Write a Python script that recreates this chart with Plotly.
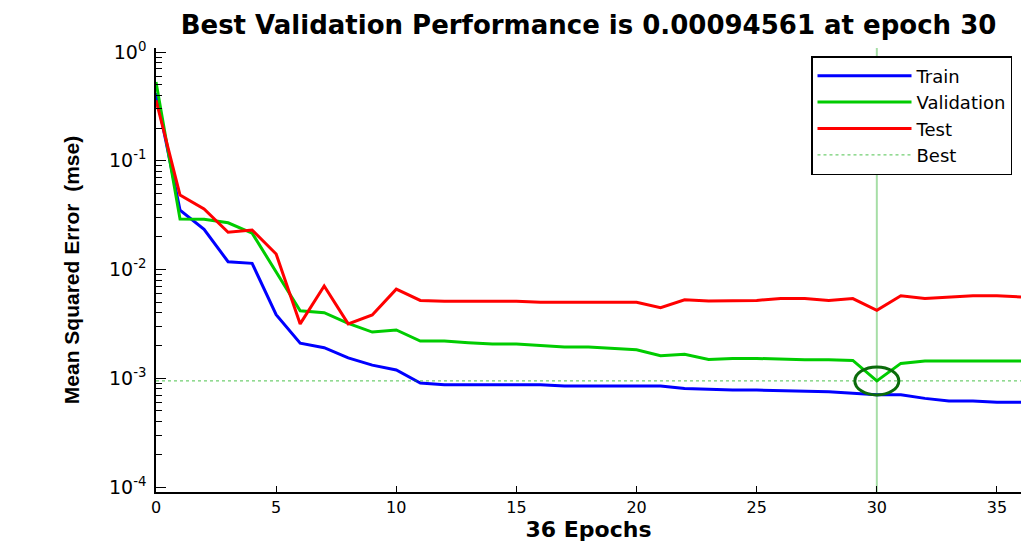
import math
import plotly.graph_objects as go

epochs = list(range(37))
train = [0.42, 0.0352, 0.0234, 0.0118, 0.0114, 0.00385, 0.0021, 0.00191, 0.00154,
         0.00132, 0.00119, 0.000904, 0.000873, 0.00087, 0.00087, 0.00087, 0.00087,
         0.000849, 0.00085, 0.00085, 0.00085, 0.00085, 0.000807, 0.00079, 0.00078,
         0.00078, 0.00077, 0.000752, 0.00075, 0.000727, 0.000706, 0.000706, 0.000653,
         0.000618, 0.000618, 0.000601, 0.000601]
validation = [0.53, 0.0291, 0.029, 0.0269, 0.0216, 0.0095, 0.00418, 0.00401, 0.0032,
              0.00266, 0.00278, 0.0022, 0.0022, 0.00212, 0.00206, 0.00206, 0.00199,
              0.00194, 0.00194, 0.00188, 0.00183, 0.00161, 0.00166, 0.00149, 0.00152,
              0.00152, 0.00149, 0.00148, 0.00148, 0.00146, 0.00094561, 0.00137, 0.00144,
              0.00144, 0.00144, 0.00144, 0.00144]
test = [0.36, 0.0484, 0.036, 0.022, 0.0231, 0.0139, 0.00316, 0.00705, 0.00316,
        0.00382, 0.0066, 0.0052, 0.0051, 0.0051, 0.0051, 0.0051, 0.0050, 0.0050,
        0.0050, 0.0050, 0.0050, 0.00446, 0.00527, 0.00513, 0.0052, 0.0052, 0.0054,
        0.0054, 0.0052, 0.0054, 0.00422, 0.00574, 0.0054, 0.00559, 0.00574, 0.00574,
        0.00559]
best_epoch = 30
best_perf = 0.00094561
n_epochs = 36

x_ticks = [0, 5, 10, 15, 20, 25, 30, 35]
y_ticks = [1e-4, 1e-3, 1e-2, 1e-1, 1e0]
y_ticktext = ["10<sup>-4</sup>", "10<sup>-3</sup>", "10<sup>-2</sup>",
              "10<sup>-1</sup>", "10<sup>0</sup>"]
y_minor = [m * 10 ** e for e in range(-4, 0) for m in range(2, 10)]
y_range = [-4.046, 0.037]

fig = go.Figure()
fig.add_trace(go.Scatter(x=epochs, y=train, mode="lines", name="Train",
                         line=dict(color="#0000ff", width=3)))
fig.add_trace(go.Scatter(x=epochs, y=validation, mode="lines", name="Validation",
                         line=dict(color="#00cc00", width=3)))
fig.add_trace(go.Scatter(x=epochs, y=test, mode="lines", name="Test",
                         line=dict(color="#ff0000", width=3)))
fig.add_trace(go.Scatter(x=[0, n_epochs], y=[best_perf, best_perf], mode="lines",
                         name="Best",
                         line=dict(color="rgba(0,170,0,0.7)", width=1, dash="dot")))

# vertical best-epoch line
fig.add_shape(type="line", xref="x", yref="y domain", x0=best_epoch, x1=best_epoch,
              y0=0, y1=1, line=dict(color="rgba(0,160,0,0.35)", width=2), layer="below")
# best-point ellipse marker (anchored in axis-domain units derived from the log range)
best_dom = (math.log10(best_perf) - y_range[0]) / (y_range[1] - y_range[0])
fig.add_shape(type="circle", xref="x", yref="y domain", xsizemode="pixel",
              ysizemode="pixel", xanchor=best_epoch, yanchor=best_dom,
              x0=-22, x1=22, y0=-14, y1=14, line=dict(color="#0b6b0b", width=3))

font_main = "DejaVu Sans, Liberation Sans, Arial, sans-serif"

fig.update_layout(
    width=1021, height=542,
    margin=dict(l=156, r=0, t=48, b=50),
    paper_bgcolor="white", plot_bgcolor="white",
    title=dict(text="<b>Best Validation Performance is 0.00094561 at epoch 30</b>",
               x=0.5, xref="paper", xanchor="center", y=1 - 25 / 542, yref="container",
               yanchor="middle",
               font=dict(family=font_main, size=26, color="black")),
    showlegend=True,
    legend=dict(x=(1012 - 156) / (1021 - 156), xanchor="right",
                y=1 - (56 - 48) / (492 - 48), yanchor="top",
                bordercolor="black", borderwidth=1.5, bgcolor="white",
                font=dict(family=font_main, size=18, color="black"),
                tracegroupgap=0, itemwidth=94),
    xaxis=dict(range=[0, n_epochs], tickvals=x_ticks, ticks="inside", ticklen=6,
               tickcolor="black", showline=True, linecolor="black", linewidth=1.5,
               showgrid=False, zeroline=False, mirror=False, automargin=False,
               tickfont=dict(family=font_main, size=16, color="black"),
               title=dict(text="<b>36 Epochs</b>", standoff=10,
                          font=dict(family=font_main, size=22, color="black"))),
    yaxis=dict(type="log", range=y_range, tickvals=y_ticks, ticktext=y_ticktext,
               ticks="inside", ticklen=10, tickcolor="black", showline=True,
               linecolor="black", linewidth=1.5, showgrid=False, zeroline=False,
               ticklabelstandoff=4, automargin=False,
               tickfont=dict(family=font_main, size=19, color="black"),
               minor=dict(tickmode="array", tickvals=y_minor, ticks="inside", ticklen=6,
                          tickcolor="black", showgrid=False),
               title=dict(text="<b>Mean Squared Error\u00a0 (mse)</b>", standoff=24,
                          font=dict(family="Liberation Sans, Arial, sans-serif",
                                    size=21, color="black"))),
)

fig.write_html("out.html")
